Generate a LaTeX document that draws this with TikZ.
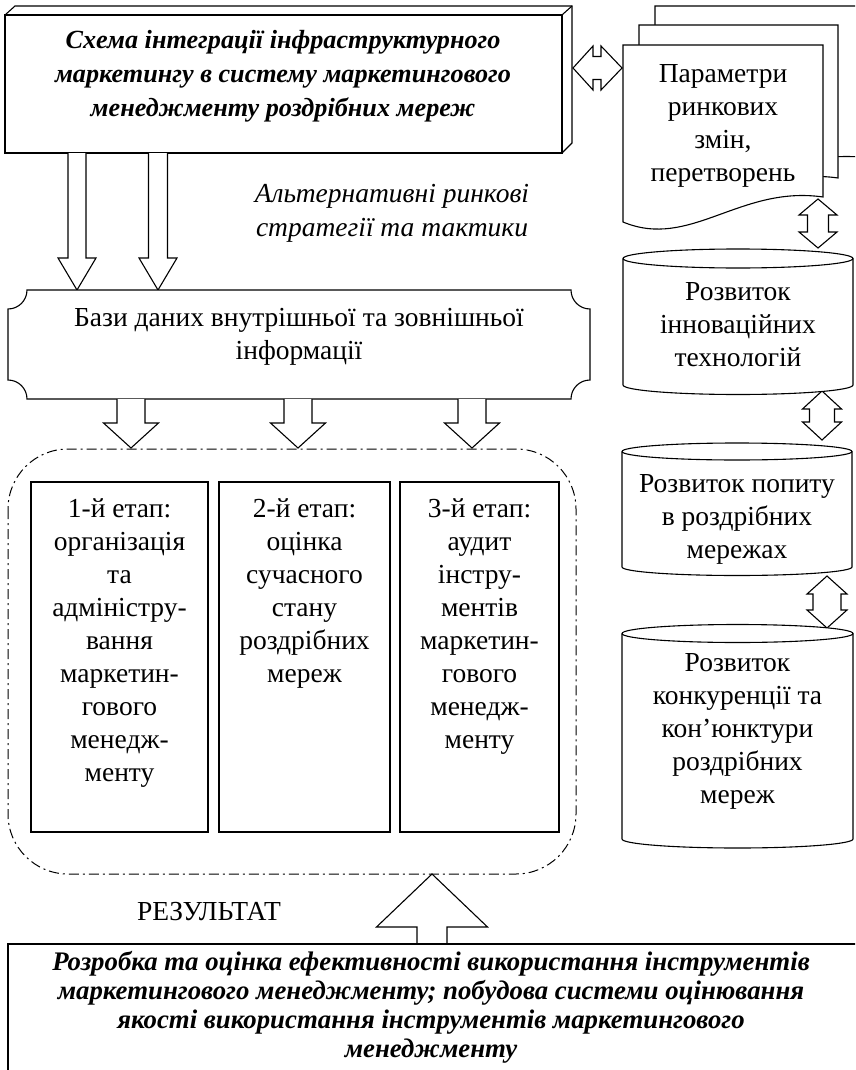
\documentclass[tikz,border=0pt]{standalone}
\usepackage{fontspec}
\setmainfont{Liberation Serif}
\tikzset{
  ln/.style={line width=1.1pt, draw=black, fill=white, line join=miter},
  blk/.style={line width=1.1pt, draw=black, fill=white, line join=miter},
  dd/.style={line width=1pt, dash pattern=on 10pt off 4pt on 2pt off 4pt},
  reg/.style={font=\fontsize{27.5}{33}\selectfont, align=center, inner sep=0pt,
              execute at begin node=\strut, execute at end node=\strut},
  regit/.style={reg, font=\fontsize{27.5}{34}\selectfont\itshape},
  bi/.style={align=center, inner sep=0pt, font=\fontsize{26.2}{34}\selectfont\bfseries\itshape,
             execute at begin node=\strut, execute at end node=\strut},
  bib/.style={align=center, inner sep=0pt, font=\fontsize{26.8}{29}\selectfont\bfseries\itshape,
             execute at begin node=\strut, execute at end node=\strut},
}
\newcommand\barrdown[6]{%
  \filldraw[blk] ({#1-#4},#2) -- ({#1-#4},{#3-#6}) -- ({#1-#5},{#3-#6}) -- (#1,#3)
    -- ({#1+#5},{#3-#6}) -- ({#1+#4},{#3-#6}) -- ({#1+#4},#2);}
\newcommand\bvdbl[6]{%
  \filldraw[blk] (#1,#2) -- ({#1+#5},{#2+#6}) -- ({#1+#4},{#2+#6}) -- ({#1+#4},{#3-#6})
    -- ({#1+#5},{#3-#6}) -- (#1,#3) -- ({#1-#5},{#3-#6}) -- ({#1-#4},{#3-#6})
    -- ({#1-#4},{#2+#6}) -- ({#1-#5},{#2+#6}) -- cycle;}
\begin{document}
\begin{tikzpicture}[x=1pt,y=-1pt]
\useasboundingbox (0,0) rectangle (855,1070);
\clip (0,0) rectangle (855,1070);

% ---------- title 3D box ----------
\filldraw[ln] (5,15) -- (15,6) -- (572,6) -- (572,143) -- (562,153) -- (5,153) -- cycle;
\node[draw, line width=1.1pt, fill=white, minimum width=557pt, minimum height=138pt, inner sep=0pt]
  (title) at (283.5,84) {};
\draw[line width=1.1pt] (title.north east) -- (572,6);
\node[bi] (titletxt) at (283,79) {Схема інтеграції інфраструктурного\\маркетингу в систему маркетингового\\менеджменту роздрібних мереж};

% ---------- horizontal double arrow ----------
\filldraw[blk] (573,68) -- (593,46) -- (593,56.5) -- (601,56.5) -- (601,46) -- (622,68)
  -- (601,90) -- (601,79.5) -- (593,79.5) -- (593,90) -- cycle;

% ---------- document stack ----------
\filldraw[ln] (655,6) -- (871,6) -- (871,158) .. controls (772,146) and (722,211) .. (655,183) -- cycle;
\filldraw[ln] (639,25) -- (838,25) -- (838,178) .. controls (755,166) and (705,231) .. (639,203) -- cycle;
\filldraw[ln] (623,45) -- (823,45) -- (823,197) .. controls (740,185) and (690,250) .. (623,222) -- cycle;
\node[reg] (doc) at (723,128) {Параметри\\ринкових\\змін,\\перетворень};

% ---------- vertical double arrows ----------
\bvdbl{818}{199}{248}{10.5}{19}{16}
\bvdbl{822}{391}{440}{12.5}{19.5}{18}
\bvdbl{827}{576}{628}{14}{20}{18}

% ---------- cylinders ----------
\filldraw[ln] (623,258.5) -- (623,385) .. controls (623,390.25) and (674.5,394.5) .. (738,394.5)
  .. controls (801.5,394.5) and (853,390.25) .. (853,385) -- (853,258.5);
\filldraw[ln] (738,258.5) ellipse [x radius=115, y radius=9.5];
\node[reg] (cyl1) at (738,329) {Розвиток\\інноваційних\\технологій};

\filldraw[ln] (622,451.5) -- (622,567) .. controls (622,571.7) and (673.5,575.5) .. (737,575.5)
  .. controls (800.5,575.5) and (852,571.7) .. (852,567) -- (852,451.5);
\filldraw[ln] (737,451.5) ellipse [x radius=115, y radius=8.5];
\node[reg] (cyl2) at (737,521) {Розвиток попиту\\в роздрібних\\мережах};

\filldraw[ln] (622,633.5) -- (622,839) .. controls (622,844) and (673.7,848) .. (737.5,848)
  .. controls (801.3,848) and (853,844) .. (853,839) -- (853,633.5);
\filldraw[ln] (737.5,633.5) ellipse [x radius=115.5, y radius=9];
\node[reg] (cyl3) at (737.5,733) {Розвиток\\конкуренції та\\кон’юнктури\\роздрібних\\мереж};

% ---------- strategies label ----------
\node[regit] (alt) at (392,215) {Альтернативні ринкові\\стратегії та тактики};

% ---------- arrows title -> databases ----------
\barrdown{77}{153}{290}{9}{19}{32}
\barrdown{158}{153}{290}{9.5}{19}{32}

% ---------- databases plaque ----------
\filldraw[ln] (27,290) -- (571,290) .. controls (571,300.5) and (579.5,309) .. (590,309)
  -- (590,380) .. controls (579.5,380) and (571,388.5) .. (571,399)
  -- (27,399) .. controls (27,388.5) and (18.5,380) .. (8,380)
  -- (8,309) .. controls (18.5,309) and (27,300.5) .. (27,290) -- cycle;
\node[reg] (bazy) at (299,339) {Бази даних внутрішньої та зовнішньої\\інформації};

% ---------- arrows databases -> stages ----------
\barrdown{131}{399}{448}{14}{27.5}{25}
\barrdown{298}{399}{448}{14}{27.5}{25}
\barrdown{472}{399}{448}{14}{27.5}{25}

% ---------- container ----------
\draw[dd, rounded corners=60pt] (8,449) rectangle (576,874);

% ---------- stage boxes ----------
\node[draw, line width=1.1pt, minimum width=177pt, minimum height=350pt, inner sep=0pt] (s1) at (119.5,657) {};
\node[draw, line width=1.1pt, minimum width=171pt, minimum height=350pt, inner sep=0pt] (s2) at (304.5,657) {};
\node[draw, line width=1.1pt, minimum width=159pt, minimum height=350pt, inner sep=0pt] (s3) at (479.5,657) {};
\node[reg] (t1) at (119.5,645) {1-й етап:\\організація\\та\\адміністру-\\вання\\маркетин-\\гового\\менедж-\\менту};
\node[reg] (t2) at (304.5,595.5) {2-й етап:\\оцінка\\сучасного\\стану\\роздрібних\\мереж};
\node[reg] (t3) at (479.5,628.5) {3-й етап:\\аудит\\інстру-\\ментів\\маркетин-\\гового\\менедж-\\менту};

% ---------- result ----------
\node[reg] (res) at (209,914) {РЕЗУЛЬТАТ};
\barrdown{432}{944}{874}{15}{55.5}{-53}

% ---------- bottom box ----------
\node[draw, line width=1.1pt, minimum width=858pt, minimum height=146pt, inner sep=0pt] (bottom) at (437,1017) {};
\node[bib] (bottomtxt) at (431,1009) {Розробка та оцінка ефективності використання інструментів\\маркетингового менеджменту; побудова системи оцінювання\\якості використання інструментів маркетингового\\менеджменту};
\end{tikzpicture}
\end{document}
